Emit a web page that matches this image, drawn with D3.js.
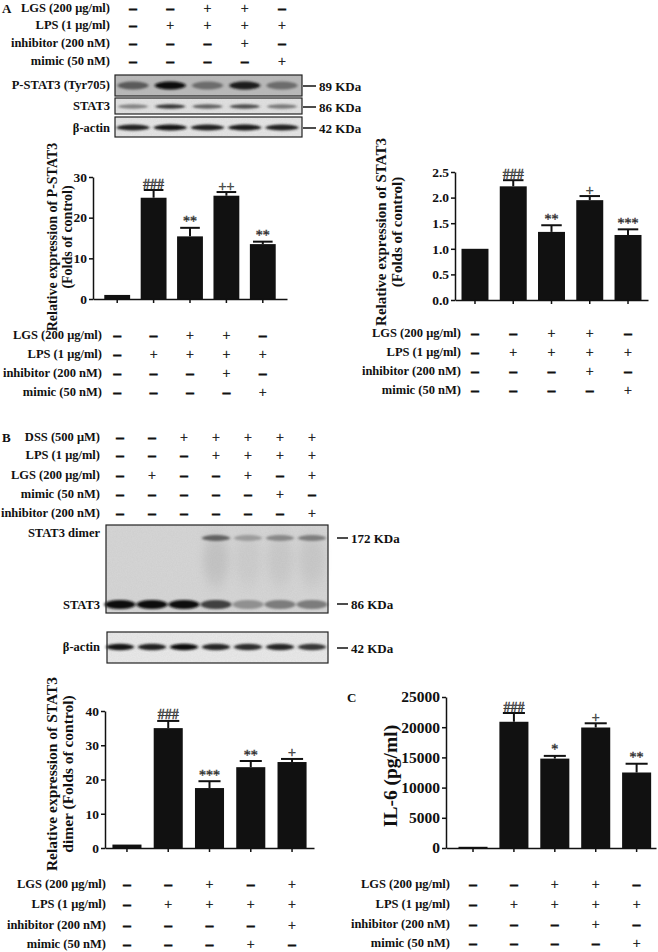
<!DOCTYPE html>
<html>
<head>
<meta charset="utf-8">
<script src="https://cdn.jsdelivr.net/npm/d3@7"></script>
<style>
  body { margin: 0; background: #fff; }
  text { font-family: "Liberation Serif", "Times New Roman", serif; font-weight: bold; fill: #111; }
</style>
</head>
<body>
<div id="fig"></div>
<script>
var width = 658, height = 952;

// groups
var groupsA = ["Control", "LPS", "LPS+LGS", "LPS+LGS+inhibitor", "LPS+mimic"];
var groupsB = ["Control", "LGS", "DSS", "DSS+LPS", "DSS+LPS+LGS", "DSS+LPS+mimic", "DSS+LPS+LGS+inhibitor"];
var groupsDimer = ["Control", "LPS", "LPS+LGS", "LPS+mimic", "LPS+LGS+inhibitor"];

// treatment tables
var treatA = [
  { label: "LGS (200 μg/ml)", signs: ["-", "-", "+", "+", "-"] },
  { label: "LPS (1 μg/ml)", signs: ["-", "+", "+", "+", "+"] },
  { label: "inhibitor (200 nM)", signs: ["-", "-", "-", "+", "-"] },
  { label: "mimic (50  nM)", signs: ["-", "-", "-", "-", "+"] }
];
var treatA2 = [
  { label: "LGS (200 μg/ml)", signs: ["-", "-", "+", "+", "-"] },
  { label: "LPS (1 μg/ml)", signs: ["-", "+", "+", "+", "+"] },
  { label: "inhibitor (200 nM)", signs: ["-", "-", "-", "+", "-"] },
  { label: "mimic (50 nM)", signs: ["-", "-", "-", "-", "+"] }
];
var treatB = [
  { label: "DSS (500 μM)", signs: ["-", "-", "+", "+", "+", "+", "+"] },
  { label: "LPS (1 μg/ml)", signs: ["-", "-", "-", "+", "+", "+", "+"] },
  { label: "LGS (200 μg/ml)", signs: ["-", "+", "-", "-", "+", "-", "+"] },
  { label: "mimic (50 nM)", signs: ["-", "-", "-", "-", "-", "+", "-"] },
  { label: "inhibitor (200 nM)", signs: ["-", "-", "-", "-", "-", "-", "+"] }
];
var treatDimer = [
  { label: "LGS (200 μg/ml)", signs: ["-", "-", "+", "-", "+"] },
  { label: "LPS (1 μg/ml)", signs: ["-", "+", "+", "+", "+"] },
  { label: "inhibitor (200 nM)", signs: ["-", "-", "-", "-", "+"] },
  { label: "mimic (50 nM)", signs: ["-", "-", "-", "+", "-"] }
];

// blot band intensities (0 = none, 1 = darkest)
var pstat3Bands = [0.55, 1.0, 0.45, 0.9, 0.45];
var stat3Bands = [0.45, 0.8, 0.6, 0.7, 0.5];
var actinBandsA = [0.9, 0.95, 0.9, 0.92, 0.9];
var dimerBands = [0, 0, 0, 0.6, 0.3, 0.4, 0.45];
var monomerBands = [1.0, 1.0, 1.0, 0.75, 0.35, 0.45, 0.45];
var actinBandsB = [0.95, 0.9, 1.0, 0.88, 0.85, 0.88, 0.8];

// bar chart values
var pstat3Values = [1, 24.9, 15.4, 25.4, 13.5];
var pstat3Err = [0, 1.9, 2.1, 0.9, 0.6];
var pstat3Sig = ["", "###", "**", "++", "**"];
var pstat3Ticks = [0, 10, 20, 30];

var stat3Values = [1.0, 2.22, 1.33, 1.95, 1.27];
var stat3Err = [0, 0.12, 0.13, 0.08, 0.11];
var stat3Sig = ["", "###", "**", "+", "***"];
var stat3Ticks = [0, 0.5, 1.0, 1.5, 2.0, 2.5];

var dimerValues = [1, 35.0, 17.5, 23.6, 25.1];
var dimerErr = [0, 2.1, 2.0, 1.8, 0.9];
var dimerSig = ["", "###", "***", "**", "+"];
var dimerTicks = [0, 10, 20, 30, 40];

var il6Values = [200, 20900, 14800, 19950, 12500];
var il6Err = [0, 1450, 450, 700, 1450];
var il6Sig = ["", "###", "*", "+", "**"];
var il6Ticks = [0, 5000, 10000, 15000, 20000, 25000];

var svg = d3.select("#fig").append("svg")
  .attr("width", width)
  .attr("height", height);

var defs = svg.append("defs");
defs.append("filter").attr("id", "blur").attr("x", "-30%").attr("y", "-100%").attr("width", "160%").attr("height", "300%")
  .append("feGaussianBlur").attr("stdDeviation", "1.6 1.2");
defs.append("filter").attr("id", "smear").attr("x", "-50%").attr("y", "-50%").attr("width", "200%").attr("height", "200%")
  .append("feGaussianBlur").attr("stdDeviation", "4 8");
var grain = defs.append("filter").attr("id", "grain");
grain.append("feTurbulence").attr("type", "fractalNoise").attr("baseFrequency", 0.8).attr("numOctaves", 2).attr("seed", 3);
grain.append("feColorMatrix").attr("type", "matrix")
  .attr("values", "0 0 0 0 0.4  0 0 0 0 0.4  0 0 0 0 0.4  0 0 0 0.18 0");
grain.append("feComposite").attr("in2", "SourceGraphic").attr("operator", "in");

var fontSize = 12.5;

function label(x, y, txt, anchor, size) {
  return svg.append("text")
    .attr("x", x).attr("y", y)
    .attr("text-anchor", anchor || "end")
    .attr("dominant-baseline", "central")
    .style("font-size", (size || fontSize) + "px")
    .text(txt);
}

function signTable(rows, labelX, rowYs, colX) {
  rows.forEach(function (r, i) {
    label(labelX, rowYs[i], r.label, "end");
    svg.selectAll(null)
      .data(r.signs)
      .enter().append("text")
      .attr("x", function (d, j) { return colX(j); })
      .attr("y", rowYs[i])
      .attr("text-anchor", "middle")
      .attr("dominant-baseline", "central")
      .style("font-size", "14px")
      .style("font-weight", "normal")
      .style("stroke", "#111")
      .style("stroke-width", function (d) { return d == "+" ? 0.3 : 1.2; })
      .text(function (d) { return d == "+" ? "+" : "–"; });
  });
}

function blot(box, bg, bands, lanePos, bandW, bandH, bandY) {
  var g = svg.append("g");
  g.append("rect").attr("x", box[0]).attr("y", box[1]).attr("width", box[2]).attr("height", box[3])
    .attr("fill", bg);
  g.append("rect").attr("x", box[0]).attr("y", box[1]).attr("width", box[2]).attr("height", box[3])
    .attr("fill", bg).attr("filter", "url(#grain)");
  var col = d3.interpolateRgb(bg, "#0d0d0d");
  g.selectAll(null)
    .data(bands)
    .enter().append("ellipse")
    .attr("cx", function (d, i) { return lanePos(i); })
    .attr("cy", bandY)
    .attr("rx", bandW / 2)
    .attr("ry", bandH / 2)
    .attr("fill", function (d) { return col(d); })
    .attr("opacity", function (d) { return d > 0 ? 1 : 0; })
    .attr("filter", "url(#blur)");
  g.append("rect").attr("x", box[0]).attr("y", box[1]).attr("width", box[2]).attr("height", box[3])
    .attr("fill", "none").attr("stroke", "#222").attr("stroke-width", 1.2);
  return g;
}

function marker(x1, x2, y, txt) {
  svg.append("line").attr("x1", x1).attr("x2", x2).attr("y1", y).attr("y2", y)
    .attr("stroke", "#111").attr("stroke-width", 1.5);
  label(x2 + 3, y, txt, "start", 13);
}

function barChart(cfg) {
  var g = svg.append("g");
  var x = d3.scaleBand().domain(cfg.cats).range([cfg.x0, cfg.x1])
    .paddingInner(cfg.pi).paddingOuter(cfg.po).align(cfg.align);
  var y = d3.scaleLinear().domain([0, cfg.max]).range([cfg.y0, cfg.yTop]);
  var bw = x.bandwidth();

  g.selectAll(".bar")
    .data(cfg.values)
    .enter().append("rect")
    .attr("class", "bar")
    .attr("x", function (d, i) { return x(cfg.cats[i]); })
    .attr("width", bw)
    .attr("y", function (d) { return y(d); })
    .attr("height", function (d) { return y(0) - y(d); })
    .attr("fill", "#111");

  var err = g.selectAll(".err")
    .data(cfg.values)
    .enter().append("g")
    .attr("class", "err")
    .style("display", function (d, i) { return cfg.err[i] > 0 ? null : "none"; });
  err.append("line")
    .attr("x1", function (d, i) { return x(cfg.cats[i]) + bw / 2; })
    .attr("x2", function (d, i) { return x(cfg.cats[i]) + bw / 2; })
    .attr("y1", function (d) { return y(d); })
    .attr("y2", function (d, i) { return y(d + cfg.err[i]); })
    .attr("stroke", "#111").attr("stroke-width", 2);
  err.append("line")
    .attr("x1", function (d, i) { return x(cfg.cats[i]) + bw * 0.12; })
    .attr("x2", function (d, i) { return x(cfg.cats[i]) + bw * 0.88; })
    .attr("y1", function (d, i) { return y(d + cfg.err[i]); })
    .attr("y2", function (d, i) { return y(d + cfg.err[i]); })
    .attr("stroke", "#111").attr("stroke-width", 2);

  g.selectAll(".sig")
    .data(cfg.sig)
    .enter().append("text")
    .attr("class", "sig")
    .attr("x", function (d, i) { return x(cfg.cats[i]) + bw / 2; })
    .attr("y", function (d, i) { return y(cfg.values[i] + cfg.err[i]) - 6; })
    .attr("text-anchor", "middle")
    .attr("dominant-baseline", "central")
    .style("font-size", "14px")
    .style("font-weight", "normal")
    .style("fill", "#9a9a9a")
    .style("stroke", "#333")
    .style("stroke-width", 0.5)
    .text(function (d) { return d; });

  var yAxis = g.append("g")
    .attr("transform", "translate(" + cfg.x0 + ",0)")
    .call(d3.axisLeft(y).tickValues(cfg.ticks).tickFormat(cfg.fmt).tickSize(4).tickSizeOuter(0).tickPadding(2));
  var xAxis = g.append("g")
    .attr("transform", "translate(0," + cfg.y0 + ")")
    .call(d3.axisBottom(x).tickSize(4).tickSizeOuter(0).tickFormat(""));
  [yAxis, xAxis].forEach(function (a) {
    a.selectAll("path, line").attr("stroke", "#111").attr("stroke-width", 1.5);
    a.selectAll("text").style("font-size", cfg.tickFont + "px")
      .style("font-family", "'Liberation Serif', serif").style("font-weight", "bold").attr("fill", "#111");
  });

  cfg.title.forEach(function (t, i) {
    svg.append("text")
      .attr("transform", "translate(" + cfg.titleX[i] + "," + cfg.titleY + ") rotate(-90)")
      .attr("text-anchor", "middle")
      .attr("dominant-baseline", "central")
      .style("font-size", cfg.titleFont + "px")
      .text(t);
  });
  return x;
}

// ---------- Panel A ----------
label(2, 8, "A", "start", 13);
var lanesAx = d3.scalePoint().domain(d3.range(5)).range([133, 282]);
signTable(treatA, 110, [8, 25, 43, 61], lanesAx);

blot([115, 75, 187, 21], "#b9b9b9", pstat3Bands, lanesAx, 31, 8, 85.5);
blot([115, 98, 187, 16], "#e2e2e2", stat3Bands, lanesAx, 30, 4.5, 106.5);
blot([115, 117, 187, 20], "#e6e6e6", actinBandsA, lanesAx, 33, 6, 127.5);
label(110, 85, "P-STAT3 (Tyr705)", "end");
label(110, 106, "STAT3", "end");
label(110, 127.5, "β-actin", "end");
marker(303, 316, 86, "89 KDa");
marker(303, 316, 107, "86 KDa");
marker(303, 316, 128, "42 KDa");

var xA1 = barChart({
  cats: groupsA, values: pstat3Values, err: pstat3Err, sig: pstat3Sig,
  ticks: pstat3Ticks, max: 30, fmt: d3.format("d"), tickFont: 13.5,
  x0: 93, x1: 287, y0: 299, yTop: 177, pi: 0.29, po: 0.31, align: 0.5,
  title: ["Relative expression of P-STAT3", "(Folds of control)"],
  titleX: [52, 67], titleY: 237, titleFont: 14
});
signTable(treatA, 102, [335, 354, 373, 392],
  function (j) { return xA1(groupsA[j]) + xA1.bandwidth() / 2; });

var xA2 = barChart({
  cats: groupsA, values: stat3Values, err: stat3Err, sig: stat3Sig,
  ticks: stat3Ticks, max: 2.5, fmt: d3.format(".1f"), tickFont: 13.5,
  x0: 455, x1: 648, y0: 300, yTop: 172, pi: 0.295, po: 0.17, align: 0.5,
  title: ["Relative expression of STAT3", "(Folds of control)"],
  titleX: [381, 397], titleY: 232, titleFont: 15
});
signTable(treatA2, 461, [333, 352, 371, 390],
  function (j) { return xA2(groupsA[j]) + xA2.bandwidth() / 2; });

// ---------- Panel B ----------
label(2, 437, "B", "start", 13);
var lanesBx = d3.scalePoint().domain(d3.range(7)).range([120, 312]);
signTable(treatB, 100, [437, 455, 475, 494, 513], lanesBx);

var gB = blot([106, 525, 222, 88], "#d6d6d6", monomerBands, lanesBx, 31, 9, 604.5);
// smear of the dimer lanes
gB.insert("g", "rect:last-child").selectAll("ellipse")
  .data(dimerBands)
  .enter().append("ellipse")
  .attr("cx", function (d, i) { return lanesBx(i); })
  .attr("cy", 560)
  .attr("rx", 13)
  .attr("ry", 26)
  .attr("fill", "#777")
  .attr("opacity", function (d) { return d * 0.3; })
  .attr("filter", "url(#smear)");
gB.insert("g", "rect:last-child").selectAll("ellipse")
  .data(dimerBands)
  .enter().append("ellipse")
  .attr("cx", function (d, i) { return lanesBx(i); })
  .attr("cy", 538)
  .attr("rx", 14)
  .attr("ry", 3)
  .attr("fill", function (d) { return d3.interpolateRgb("#d6d6d6", "#111")(d); })
  .attr("opacity", function (d) { return d > 0 ? 1 : 0; })
  .attr("filter", "url(#blur)");
label(100, 533, "STAT3 dimer", "end");
label(100, 605, "STAT3", "end");
marker(337, 348, 538, "172 KDa");
marker(337, 348, 604, "86 KDa");

blot([107, 632, 221, 31], "#eaeaea", actinBandsB, lanesBx, 28, 6.5, 647);
label(100, 647, "β-actin", "end");
marker(337, 348, 648, "42 KDa");

var xB1 = barChart({
  cats: groupsDimer, values: dimerValues, err: dimerErr, sig: dimerSig,
  ticks: dimerTicks, max: 40, fmt: d3.format("d"), tickFont: 13.5,
  x0: 105, x1: 314, y0: 848, yTop: 711, pi: 0.296, po: 0.18, align: 0.5,
  title: ["Relative expression of STAT3", "dimer (Folds of control)"],
  titleX: [51, 67], titleY: 774, titleFont: 15.5
});
signTable(treatDimer, 106, [884, 904, 925, 944],
  function (j) { return xB1(groupsDimer[j]) + xB1.bandwidth() / 2; });

// ---------- Panel C ----------
label(347, 697, "C", "start", 13);
var xC = barChart({
  cats: groupsA, values: il6Values, err: il6Err, sig: il6Sig,
  ticks: il6Ticks, max: 25000, fmt: d3.format("d"), tickFont: 15.5,
  x0: 446, x1: 656, y0: 848, yTop: 697, pi: 0.29, po: 0.212, align: 0.72,
  title: ["IL-6 (pg/ml)"],
  titleX: [390], titleY: 776, titleFont: 19.5
});
signTable(treatA2, 450, [884, 904, 924, 943],
  function (j) { return xC(groupsA[j]) + xC.bandwidth() / 2; });
</script>
</body>
</html>
